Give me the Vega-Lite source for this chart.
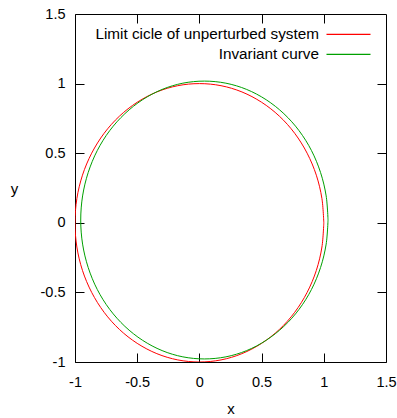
{
  "$schema": "https://vega.github.io/schema/vega-lite/v6.json",
  "width": 311,
  "height": 348,
  "padding": {"left": 75, "top": 14, "right": 11, "bottom": 56},
  "autosize": {"type": "none"},
  "background": "white",
  "config": {
    "font": "Liberation Sans",
    "view": {"stroke": "black", "strokeWidth": 1},
    "axis": {"labelFont": "Liberation Sans", "titleFont": "Liberation Sans", "labelFontSize": 14.5, "titleFontSize": 15, "titleFontWeight": "normal", "labelColor": "black", "titleColor": "black", "grid": false, "domain": false, "tickColor": "black", "tickSize": -9, "labelFlush": false, "labelOverlap": false, "labelExpr": "'' + datum.value"}
  },
  "data": {"values": [
    {"series": "Limit cicle of unperturbed system", "t": 0, "x": 1, "y": 0},
    {"series": "Limit cicle of unperturbed system", "t": 10, "x": 0.985, "y": 0.174},
    {"series": "Limit cicle of unperturbed system", "t": 20, "x": 0.94, "y": 0.342},
    {"series": "Limit cicle of unperturbed system", "t": 30, "x": 0.866, "y": 0.5},
    {"series": "Limit cicle of unperturbed system", "t": 40, "x": 0.766, "y": 0.643},
    {"series": "Limit cicle of unperturbed system", "t": 50, "x": 0.643, "y": 0.766},
    {"series": "Limit cicle of unperturbed system", "t": 60, "x": 0.5, "y": 0.866},
    {"series": "Limit cicle of unperturbed system", "t": 70, "x": 0.342, "y": 0.94},
    {"series": "Limit cicle of unperturbed system", "t": 80, "x": 0.174, "y": 0.985},
    {"series": "Limit cicle of unperturbed system", "t": 90, "x": 0, "y": 1},
    {"series": "Limit cicle of unperturbed system", "t": 100, "x": -0.174, "y": 0.985},
    {"series": "Limit cicle of unperturbed system", "t": 110, "x": -0.342, "y": 0.94},
    {"series": "Limit cicle of unperturbed system", "t": 120, "x": -0.5, "y": 0.866},
    {"series": "Limit cicle of unperturbed system", "t": 130, "x": -0.643, "y": 0.766},
    {"series": "Limit cicle of unperturbed system", "t": 140, "x": -0.766, "y": 0.643},
    {"series": "Limit cicle of unperturbed system", "t": 150, "x": -0.866, "y": 0.5},
    {"series": "Limit cicle of unperturbed system", "t": 160, "x": -0.94, "y": 0.342},
    {"series": "Limit cicle of unperturbed system", "t": 170, "x": -0.985, "y": 0.174},
    {"series": "Limit cicle of unperturbed system", "t": 180, "x": -1, "y": 0},
    {"series": "Limit cicle of unperturbed system", "t": 190, "x": -0.985, "y": -0.174},
    {"series": "Limit cicle of unperturbed system", "t": 200, "x": -0.94, "y": -0.342},
    {"series": "Limit cicle of unperturbed system", "t": 210, "x": -0.866, "y": -0.5},
    {"series": "Limit cicle of unperturbed system", "t": 220, "x": -0.766, "y": -0.643},
    {"series": "Limit cicle of unperturbed system", "t": 230, "x": -0.643, "y": -0.766},
    {"series": "Limit cicle of unperturbed system", "t": 240, "x": -0.5, "y": -0.866},
    {"series": "Limit cicle of unperturbed system", "t": 250, "x": -0.342, "y": -0.94},
    {"series": "Limit cicle of unperturbed system", "t": 260, "x": -0.174, "y": -0.985},
    {"series": "Limit cicle of unperturbed system", "t": 270, "x": 0, "y": -1},
    {"series": "Limit cicle of unperturbed system", "t": 280, "x": 0.174, "y": -0.985},
    {"series": "Limit cicle of unperturbed system", "t": 290, "x": 0.342, "y": -0.94},
    {"series": "Limit cicle of unperturbed system", "t": 300, "x": 0.5, "y": -0.866},
    {"series": "Limit cicle of unperturbed system", "t": 310, "x": 0.643, "y": -0.766},
    {"series": "Limit cicle of unperturbed system", "t": 320, "x": 0.766, "y": -0.643},
    {"series": "Limit cicle of unperturbed system", "t": 330, "x": 0.866, "y": -0.5},
    {"series": "Limit cicle of unperturbed system", "t": 340, "x": 0.94, "y": -0.342},
    {"series": "Limit cicle of unperturbed system", "t": 350, "x": 0.985, "y": -0.174},
    {"series": "Limit cicle of unperturbed system", "t": 360, "x": 1, "y": 0},
    {"series": "Invariant curve", "t": 0, "x": 1.034, "y": 0.02},
    {"series": "Invariant curve", "t": 10, "x": 1.019, "y": 0.193},
    {"series": "Invariant curve", "t": 20, "x": 0.974, "y": 0.361},
    {"series": "Invariant curve", "t": 30, "x": 0.901, "y": 0.519},
    {"series": "Invariant curve", "t": 40, "x": 0.801, "y": 0.662},
    {"series": "Invariant curve", "t": 50, "x": 0.679, "y": 0.784},
    {"series": "Invariant curve", "t": 60, "x": 0.537, "y": 0.884},
    {"series": "Invariant curve", "t": 70, "x": 0.38, "y": 0.958},
    {"series": "Invariant curve", "t": 80, "x": 0.213, "y": 1.003},
    {"series": "Invariant curve", "t": 90, "x": 0.04, "y": 1.018},
    {"series": "Invariant curve", "t": 100, "x": -0.133, "y": 1.003},
    {"series": "Invariant curve", "t": 110, "x": -0.3, "y": 0.958},
    {"series": "Invariant curve", "t": 120, "x": -0.457, "y": 0.884},
    {"series": "Invariant curve", "t": 130, "x": -0.599, "y": 0.784},
    {"series": "Invariant curve", "t": 140, "x": -0.721, "y": 0.662},
    {"series": "Invariant curve", "t": 150, "x": -0.821, "y": 0.519},
    {"series": "Invariant curve", "t": 160, "x": -0.894, "y": 0.361},
    {"series": "Invariant curve", "t": 170, "x": -0.939, "y": 0.193},
    {"series": "Invariant curve", "t": 180, "x": -0.954, "y": 0.02},
    {"series": "Invariant curve", "t": 190, "x": -0.939, "y": -0.153},
    {"series": "Invariant curve", "t": 200, "x": -0.894, "y": -0.321},
    {"series": "Invariant curve", "t": 210, "x": -0.821, "y": -0.479},
    {"series": "Invariant curve", "t": 220, "x": -0.721, "y": -0.622},
    {"series": "Invariant curve", "t": 230, "x": -0.599, "y": -0.744},
    {"series": "Invariant curve", "t": 240, "x": -0.457, "y": -0.844},
    {"series": "Invariant curve", "t": 250, "x": -0.3, "y": -0.918},
    {"series": "Invariant curve", "t": 260, "x": -0.133, "y": -0.963},
    {"series": "Invariant curve", "t": 270, "x": 0.04, "y": -0.978},
    {"series": "Invariant curve", "t": 280, "x": 0.213, "y": -0.963},
    {"series": "Invariant curve", "t": 290, "x": 0.38, "y": -0.918},
    {"series": "Invariant curve", "t": 300, "x": 0.537, "y": -0.844},
    {"series": "Invariant curve", "t": 310, "x": 0.679, "y": -0.744},
    {"series": "Invariant curve", "t": 320, "x": 0.801, "y": -0.622},
    {"series": "Invariant curve", "t": 330, "x": 0.901, "y": -0.479},
    {"series": "Invariant curve", "t": 340, "x": 0.974, "y": -0.321},
    {"series": "Invariant curve", "t": 350, "x": 1.019, "y": -0.153},
    {"series": "Invariant curve", "t": 360, "x": 1.034, "y": 0.02}
  ]},
  "layer": [
    {
      "mark": {"type": "line", "interpolate": "cardinal", "strokeWidth": 1, "clip": true},
      "encoding": {
        "x": {"field": "x", "type": "quantitative", "scale": {"domain": [-1, 1.5], "nice": false, "zero": false},
              "axis": {"values": [-1, -0.5, 0, 0.5, 1, 1.5], "title": "x", "labelPadding": 22, "titleY": 46, "titleBaseline": "middle", "titlePadding": 0}},
        "y": {"field": "y", "type": "quantitative", "scale": {"domain": [-1, 1.5], "nice": false, "zero": false},
              "axis": {"values": [-1, -0.5, 0, 0.5, 1, 1.5], "title": "y", "titleAngle": 0, "titleX": -61, "titleY": 174, "titleAlign": "center", "titleBaseline": "middle", "labelPadding": 19}},
        "order": {"field": "t", "type": "quantitative"},
        "color": {"field": "series", "type": "nominal",
                  "scale": {"domain": ["Limit cicle of unperturbed system", "Invariant curve"], "range": ["#ff0000", "#00a000"]},
                  "legend": {"title": null, "orient": "none", "legendX": 264.5, "legendY": 11.3, "symbolType": "M-2.75,0H2.75", "symbolSize": 256, "symbolStrokeWidth": 1.2, "symbolFillColor": "transparent", "labelAlign": "right", "labelOffset": -38.5, "labelLimit": 0, "labelFontSize": 15.3, "labelColor": "black", "labelFont": "Liberation Sans", "rowPadding": 2, "padding": 0}}
      }
    },
    {
      "mark": {"type": "line", "opacity": 0},
      "encoding": {
        "x": {"field": "x", "type": "quantitative", "scale": {"domain": [-1, 1.5], "nice": false, "zero": false},
              "axis": {"orient": "top", "values": [-0.5, 0, 0.5, 1], "labels": false, "title": null}},
        "y": {"field": "y", "type": "quantitative", "scale": {"domain": [-1, 1.5], "nice": false, "zero": false},
              "axis": {"orient": "right", "values": [-0.5, 0, 0.5, 1], "labels": false, "title": null}}
      }
    }
  ],
  "resolve": {"axis": {"x": "independent", "y": "independent"}}
}
